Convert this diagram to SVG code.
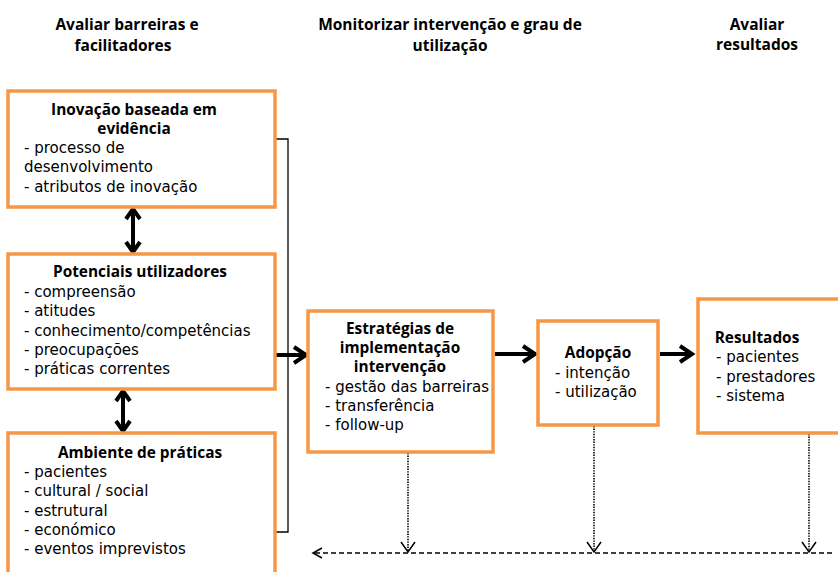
<svg xmlns="http://www.w3.org/2000/svg" width="838" height="572" viewBox="0 0 838 572">
<defs>
<style>
.box{fill:#fff;stroke:#F79646;stroke-width:3.5}
.hd{font-family:"Open Sans","Liberation Sans",sans-serif;font-weight:bold;font-size:15.5px;fill:#000;text-anchor:middle}
.tt{font-family:"Open Sans","Liberation Sans",sans-serif;font-weight:bold;font-size:15.4px;fill:#000;text-anchor:middle}
.bd{font-family:"DejaVu Sans","Open Sans",sans-serif;font-size:15px;fill:#000}
.thick{stroke:#000;stroke-width:4;fill:none}
.head{stroke:#000;stroke-width:4;fill:none;stroke-linejoin:miter}
.dot{stroke:#000;stroke-width:1.6;stroke-dasharray:1.4 1.2;fill:none}
.dash{stroke:#000;stroke-width:1.5;stroke-dasharray:5 3;fill:none}
.v{stroke:#000;stroke-width:1.5;fill:none}
</style>
</defs>
<rect width="838" height="572" fill="#fff"/>
<g id="headers">
<text class="hd" x="127" y="30">Avaliar barreiras e</text>
<text class="hd" x="123" y="51">facilitadores</text>
<text class="hd" x="450" y="30">Monitorizar intervenção e grau de</text>
<text class="hd" x="450" y="51">utilização</text>
<text class="hd" x="757" y="30">Avaliar</text>
<text class="hd" x="757" y="50">resultados</text>
</g>
<g id="connectors">
<polyline points="275,139 288,139 288,532 275,532" stroke="#000" stroke-width="1.3" fill="none"/>
<line class="thick" x1="133" y1="212" x2="133" y2="249"/>
<path class="head" d="M126,219 L133,209 L140,219 M126,242 L133,252 L140,242"/>
<line class="thick" x1="123" y1="394" x2="123" y2="428"/>
<path class="head" d="M116,401 L123,391 L130,401 M116,421 L123,431 L130,421"/>
<line class="thick" x1="276" y1="355" x2="305" y2="355"/>
<path class="head" d="M294,347 L306,355 L294,363"/>
<line class="thick" x1="495" y1="354" x2="534" y2="354"/>
<path class="head" d="M523,346 L535,354 L523,362"/>
<line class="thick" x1="660" y1="354" x2="691" y2="354"/>
<path class="head" d="M680,346 L692,354 L680,362"/>
<line class="dot" x1="408" y1="453" x2="408" y2="551"/>
<path class="v" d="M401,542 L408,552 L415,542"/>
<line class="dot" x1="594" y1="426" x2="594" y2="551"/>
<path class="v" d="M587,542 L594,552 L601,542"/>
<line class="dot" x1="809" y1="434" x2="809" y2="551"/>
<path class="v" d="M802,542 L809,552 L816,542"/>
<line class="dash" x1="832" y1="553" x2="315" y2="553"/>
<path class="v" d="M322,548 L313,553 L322,558"/>
</g>
<g id="inovacao">
<rect class="box" x="8" y="91" width="267" height="116"/>
<text class="tt" x="134" y="115">Inovação baseada em</text>
<text class="tt" x="134" y="134">evidência</text>
<text class="bd" x="24" y="153">- processo de</text>
<text class="bd" x="24" y="172">desenvolvimento</text>
<text class="bd" x="24" y="192">- atributos de inovação</text>
</g>
<g id="utilizadores">
<rect class="box" x="8" y="254" width="267" height="135"/>
<text class="tt" x="140" y="277">Potenciais utilizadores</text>
<text class="bd" x="24" y="297">- compreensão</text>
<text class="bd" x="24" y="316">- atitudes</text>
<text class="bd" x="24" y="336">- conhecimento/competências</text>
<text class="bd" x="24" y="355">- preocupações</text>
<text class="bd" x="24" y="374">- práticas correntes</text>
</g>
<g id="ambiente">
<rect class="box" x="8" y="433" width="267" height="145"/>
<text class="tt" x="140" y="458">Ambiente de práticas</text>
<text class="bd" x="24" y="477">- pacientes</text>
<text class="bd" x="24" y="496">- cultural / social</text>
<text class="bd" x="24" y="516">- estrutural</text>
<text class="bd" x="24" y="535">- económico</text>
<text class="bd" x="24" y="554">- eventos imprevistos</text>
</g>
<g id="estrategias">
<rect class="box" x="308" y="311" width="185" height="141"/>
<text class="tt" x="400" y="334">Estratégias de</text>
<text class="tt" x="400" y="353">implementação</text>
<text class="tt" x="400" y="372">intervenção</text>
<text class="bd" x="325" y="392">- gestão das barreiras</text>
<text class="bd" x="325" y="411">- transferência</text>
<text class="bd" x="325" y="430">- follow-up</text>
</g>
<g id="adopcao">
<rect class="box" x="538" y="321" width="120" height="104"/>
<text class="tt" x="598" y="358">Adopção</text>
<text class="bd" x="555" y="378">- intenção</text>
<text class="bd" x="555" y="397">- utilização</text>
</g>
<g id="resultados">
<rect class="box" x="698" y="299" width="145" height="134"/>
<text class="tt" x="757" y="343">Resultados</text>
<text class="bd" x="716" y="362">- pacientes</text>
<text class="bd" x="716" y="382">- prestadores</text>
<text class="bd" x="716" y="401">- sistema</text>
</g>
</svg>
